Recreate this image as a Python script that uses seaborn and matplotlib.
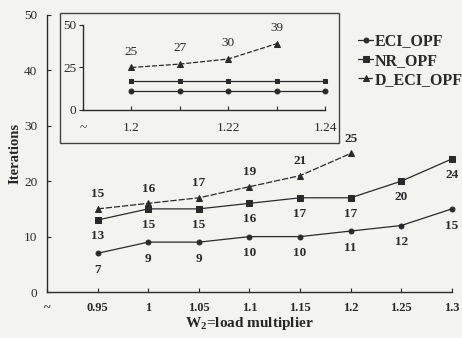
import matplotlib
matplotlib.use("Agg")
import matplotlib.pyplot as plt
from matplotlib.patches import Rectangle
import seaborn as sns
import pandas as pd

# ---- data ----
load_mult = [0.95, 1.0, 1.05, 1.1, 1.15, 1.2, 1.25, 1.3]
eci_opf = [7, 9, 9, 10, 10, 11, 12, 15]
nr_opf = [13, 15, 15, 16, 17, 17, 20, 24]
d_load = [0.95, 1.0, 1.05, 1.1, 1.15, 1.2]
d_eci_opf = [15, 16, 17, 19, 21, 25]

x_ticks = [0.9, 0.95, 1.0, 1.05, 1.1, 1.15, 1.2, 1.25, 1.3]
x_ticklabels = ["~", "0.95", "1", "1.05", "1.1", "1.15", "1.2", "1.25", "1.3"]

inset_load = [1.2, 1.21, 1.22, 1.23, 1.24]
inset_eci = [11, 11, 11, 11, 11]
inset_nr = [17, 17, 17, 17, 17]
inset_d_load = [1.2, 1.21, 1.22, 1.23]
inset_d_eci = [25, 27, 30, 39]
inset_ticks = [1.19, 1.2, 1.21, 1.22, 1.23, 1.24]
inset_ticklabels = ["~", "1.2", "", "1.22", "", "1.24"]

series_names = ["ECI_OPF", "NR_OPF", "D_ECI_OPF"]

# ---- style ----
sns.set_style("ticks")
BG = "#f3f3ef"
INK = "#2a2a2a"
plt.rcParams["font.family"] = ["Liberation Serif", "DejaVu Serif"]
plt.rcParams["mathtext.fontset"] = "custom"
plt.rcParams["mathtext.rm"] = "Liberation Serif:bold"
plt.rcParams["mathtext.bf"] = "Liberation Serif:bold"
plt.rcParams["text.color"] = INK
plt.rcParams["axes.edgecolor"] = INK
plt.rcParams["xtick.color"] = INK
plt.rcParams["ytick.color"] = INK

fig = plt.figure(figsize=(4.62, 3.38), dpi=100, facecolor=BG)

# ---- main axes ----
ax = fig.add_axes([0.102, 0.136, 0.876, 0.82])
ax.set_facecolor("none")

main_df = pd.DataFrame({"x": load_mult, "eci": eci_opf, "nr": nr_opf})
d_df = pd.DataFrame({"x": d_load, "d": d_eci_opf})

lkw = dict(color=INK, linewidth=0.9, markeredgecolor=INK, markerfacecolor=INK, clip_on=False)
sns.lineplot(data=main_df, x="x", y="eci", marker="o", markersize=3.5, ax=ax, label=series_names[0], **lkw)
sns.lineplot(data=main_df, x="x", y="nr", marker="s", markersize=4, ax=ax, label=series_names[1], **lkw)
sns.lineplot(data=d_df, x="x", y="d", marker="^", markersize=4.5, ax=ax, label=series_names[2],
             linestyle=(0, (5, 1.5)), **lkw)

lab_kw = dict(textcoords="offset points", ha="center", va="center", fontsize=9.5, fontweight="bold", color=INK)
for xv, yv in zip(load_mult, eci_opf):
    ax.annotate(str(yv), (xv, yv), xytext=(0, -12), **lab_kw)
for xv, yv in zip(load_mult, nr_opf):
    ax.annotate(str(yv), (xv, yv), xytext=(0, -11.5), **lab_kw)
for xv, yv in zip(d_load, d_eci_opf):
    ax.annotate(str(yv), (xv, yv), xytext=(0, 10.5), **lab_kw)

ax.set_xlim(0.9, 1.3)
ax.set_ylim(0, 50)
ax.set_xticks(x_ticks)
ax.set_xticklabels(x_ticklabels, fontsize=9, fontweight="bold")
ax.set_yticks([0, 10, 20, 30, 40, 50])
ax.set_yticklabels(["0", "10", "20", "30", "40", "50"], fontsize=9.5)
ax.tick_params(axis="x", direction="in", length=3, width=0.8, pad=7)
ax.tick_params(axis="y", direction="in", length=3, width=0.8, pad=7)
sns.despine(ax=ax)
for s in ("left", "bottom"):
    ax.spines[s].set_linewidth(1.0)
ax.set_xlabel(r"W$_\mathbf{2}$=load multiplier", fontsize=11, fontweight="bold", labelpad=1)
ax.set_ylabel("Iterations", fontsize=10.5, fontweight="bold", labelpad=2)

handles, labels = ax.get_legend_handles_labels()
ax.get_legend().remove()
fig.legend(handles, labels, loc="upper left", bbox_to_anchor=(0.762, 0.92), frameon=False,
           handlelength=0.9, handletextpad=0.15, labelspacing=0.2, borderaxespad=0,
           prop={"family": "Liberation Serif", "weight": "bold", "size": 11.5})

# ---- inset ----
fig.patches.append(Rectangle((0.13, 0.577), 0.604, 0.385, transform=fig.transFigure,
                             facecolor=BG, edgecolor="#444444", linewidth=1.0, zorder=2))
ins = fig.add_axes([0.1797, 0.6746, 0.524, 0.2515])
ins.set_facecolor("none")
ins.set_zorder(3)

inset_df = pd.DataFrame({"x": inset_load, "eci": inset_eci, "nr": inset_nr})
inset_d_df = pd.DataFrame({"x": inset_d_load, "d": inset_d_eci})
sns.lineplot(data=inset_df, x="x", y="eci", marker="o", markersize=3.5, ax=ins, **lkw)
sns.lineplot(data=inset_df, x="x", y="nr", marker="s", markersize=3.5, ax=ins, **lkw)
sns.lineplot(data=inset_d_df, x="x", y="d", marker="^", markersize=4, ax=ins,
             linestyle=(0, (4, 1.5)), **lkw)
for xv, yv in zip(inset_d_load, inset_d_eci):
    ins.annotate(str(yv), (xv, yv), xytext=(0, 11.5), textcoords="offset points",
                 ha="center", va="center", fontsize=9.5, color=INK)

ins.set_xlim(1.19, 1.24)
ins.set_ylim(0, 50)
ins.set_xticks(inset_ticks)
ins.set_xticklabels(inset_ticklabels, fontsize=9.5)
ins.set_yticks([0, 25, 50])
ins.set_yticklabels(["0", "25", "50"], fontsize=9.5)
ins.tick_params(axis="x", direction="in", length=3, width=0.8, pad=9)
ins.tick_params(axis="y", direction="out", length=3, width=0.8, pad=2)
ins.set_xlabel("")
ins.set_ylabel("")
sns.despine(ax=ins)
for s in ("left", "bottom"):
    ins.spines[s].set_linewidth(1.0)

fig.savefig("out.png", dpi=100, facecolor=BG)
